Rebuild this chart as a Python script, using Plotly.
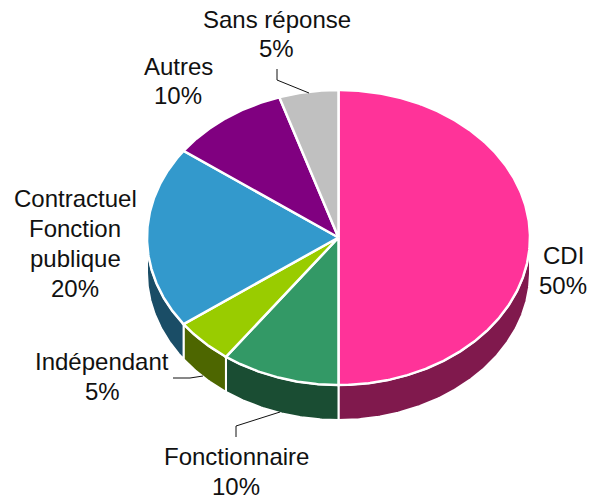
import numpy as np
import plotly.graph_objects as go

categories = ["CDI", "Fonctionnaire", "Indépendant", "Contractuel Fonction publique", "Autres", "Sans réponse"]
values = [50, 10, 5, 20, 10, 5]
top_colors = ["#FF3399", "#339966", "#99CC00", "#3399CC", "#800080", "#C0C0C0"]
side_colors = ["#80194D", "#1A4D33", "#4D6600", "#1A4D66", "#400040", "#606060"]
label_lines = [["CDI"], ["Fonctionnaire"], ["Indépendant"], ["Contractuel", "Fonction", "publique"], ["Autres"], ["Sans réponse"]]
label_x = [563, 236, 102, 75, 178, 276.5]
label_y = [255.5, 456, 361, 198.5, 66.5, 19.5]
label_gap = [30, 30, 30, 30, 29, 28.5]
leaders = [None, [(236, 437), (236, 426), (280, 412)], [(173, 378), (190, 378), (203, 376)], None, None,
           [(277, 69), (277, 80), (309, 93)]]

CX, CY, RX, RY, DEPTH = 338.5, 237.5, 191.5, 147.5, 35
FONT = dict(family="Liberation Sans, Arial, sans-serif", size=24, color="#111111")


def rim(a0, a1, dy=0):
    t = np.radians(np.linspace(a0, a1, max(int(abs(a1 - a0) * 2), 2)))
    return CX + RX * np.sin(t), CY - RY * np.cos(t) + dy


fig = go.Figure()
edges = np.concatenate([[0], np.cumsum(values)]) / sum(values) * 360

# side walls (only the part of each slice that faces the viewer)
for i in range(len(values)):
    a0, a1 = max(edges[i], 90), min(edges[i + 1], 270)
    if a1 <= a0:
        continue
    xt, yt = rim(a0, a1)
    xb, yb = rim(a1, a0, DEPTH)
    fig.add_trace(go.Scatter(x=np.r_[xt, xb, xt[0]], y=np.r_[yt, yb, yt[0]], mode="lines", fill="toself",
                             fillcolor=side_colors[i], line=dict(color="white", width=2),
                             hoverinfo="skip", showlegend=False))

# top faces
for i in range(len(values)):
    xt, yt = rim(edges[i], edges[i + 1])
    fig.add_trace(go.Scatter(x=np.r_[CX, xt, CX], y=np.r_[CY, yt, CY], mode="lines", fill="toself",
                             fillcolor=top_colors[i], line=dict(color="white", width=2.5),
                             name=categories[i], showlegend=False))

# leader lines
for pts in leaders:
    if pts:
        fig.add_trace(go.Scatter(x=[p[0] for p in pts], y=[p[1] for p in pts], mode="lines",
                                 line=dict(color="#111111", width=1), hoverinfo="skip", showlegend=False))

# labels
for i, lines in enumerate(label_lines):
    for j, text in enumerate(lines + [f"{values[i]}%"]):
        fig.add_annotation(x=label_x[i], y=label_y[i] + j * label_gap[i], text=text, showarrow=False,
                           xanchor="center", yanchor="middle", font=FONT)

fig.update_layout(width=592, height=502, margin=dict(l=0, r=0, t=0, b=0),
                  paper_bgcolor="white", plot_bgcolor="white",
                  xaxis=dict(range=[0, 592], visible=False, fixedrange=True),
                  yaxis=dict(range=[502, 0], visible=False, fixedrange=True))
fig.write_html("out.html", config=dict(displayModeBar=False),
               post_script="document.body.style.margin='0';document.documentElement.style.overflow='hidden';")
